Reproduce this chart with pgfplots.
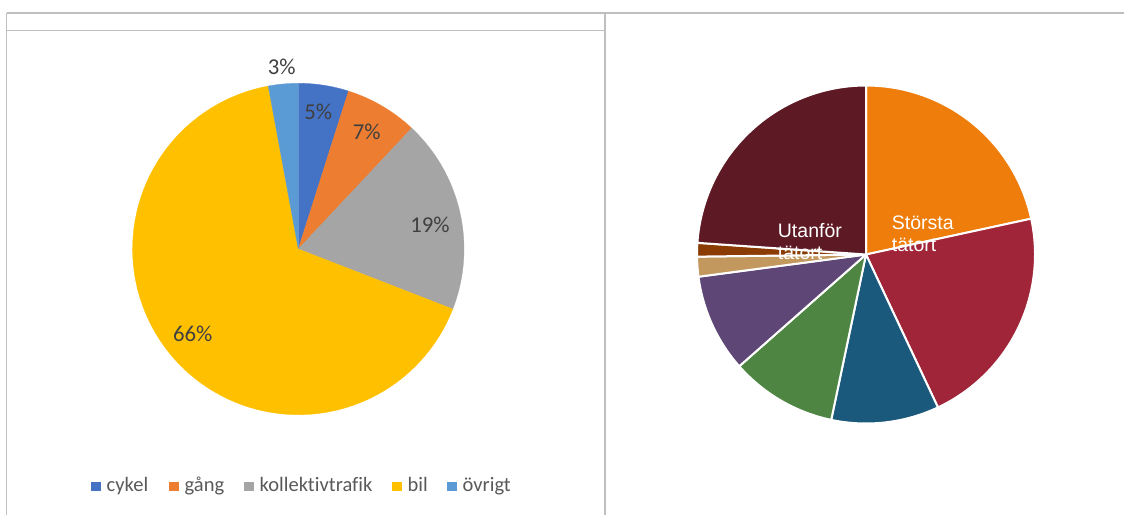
\documentclass[border=0pt]{standalone}
\usepackage{pgfplots}
\pgfplotsset{compat=1.18}
\usepackage{fontspec}
\setmainfont{Carlito}[Ligatures=NoCommon]
\newfontfamily\arial{Liberation Sans}
\definecolor{bordercol}{HTML}{BFBFBF}
\definecolor{cykel}{HTML}{4472C4}
\definecolor{gang}{HTML}{ED7D31}
\definecolor{koll}{HTML}{A5A5A5}
\definecolor{bil}{HTML}{FFC000}
\definecolor{ovr}{HTML}{5B9BD5}
\definecolor{rOrange}{HTML}{EE7D0B}
\definecolor{rRed}{HTML}{A12538}
\definecolor{rBlue}{HTML}{1B597C}
\definecolor{rGreen}{HTML}{4E8542}
\definecolor{rPurple}{HTML}{5E4777}
\definecolor{rTan}{HTML}{C3985E}
\definecolor{rBrown}{HTML}{8B3C05}
\definecolor{rMaroon}{HTML}{5E1A24}
\definecolor{lbl}{HTML}{404040}
\definecolor{leg}{HTML}{595959}

\newcommand\cum{0}
% #1 value (percent), #2 fill colour, #3 draw style
\newcommand\pieslice[3]{%
  \pgfmathsetmacro\angA{90-3.6*\cum}%
  \pgfmathsetmacro\angB{90-3.6*(\cum+#1)}%
  \edef\doslice{\noexpand\addplot[fill=#2, #3, line join=round, domain=\angB:\angA, samples=90] ({cos(x)},{sin(x)}) -- (axis cs:0,0) -- cycle;}%
  \doslice
  \pgfmathsetmacro\tmp{\cum+#1}\xdef\cum{\tmp}%
}

\begin{document}
\begin{tikzpicture}[x=1pt,y=1pt]
\useasboundingbox (0,0) rectangle (1124,515);
% table borders
\draw[bordercol, line width=1.6pt] (6.7,501.7) -- (1124,501.7);
\draw[bordercol, line width=1.4pt] (6.7,0) -- (6.7,501.7);
\draw[bordercol, line width=1.4pt] (605,0) -- (605,501.7);
\draw[bordercol, line width=1.4pt] (6.7,484.5) -- (605,484.5);

% left pie
\gdef\cum{0}
\begin{axis}[at={(298.3pt,266pt)}, anchor=center, scale only axis,
  width=331.4pt, height=331.4pt, xmin=-1, xmax=1, ymin=-1, ymax=1,
  hide axis, clip=false]
\pieslice{4.9}{cykel}{draw=cykel, line width=0.3pt}
\pieslice{7.1}{gang}{draw=gang, line width=0.3pt}
\pieslice{18.9}{koll}{draw=koll, line width=0.3pt}
\pieslice{66.2}{bil}{draw=bil, line width=0.3pt}
\pieslice{2.9}{ovr}{draw=ovr, line width=0.3pt}
\end{axis}

% right pie
\gdef\cum{0}
\begin{axis}[at={(866pt,260.5pt)}, anchor=center, scale only axis,
  width=338pt, height=338pt, xmin=-1, xmax=1, ymin=-1, ymax=1,
  hide axis, clip=false]
\pieslice{21.6}{rOrange}{draw=white, line width=2pt}
\pieslice{21.4}{rRed}{draw=white, line width=2pt}
\pieslice{10.3}{rBlue}{draw=white, line width=2pt}
\pieslice{10.2}{rGreen}{draw=white, line width=2pt}
\pieslice{9.4}{rPurple}{draw=white, line width=2pt}
\pieslice{1.9}{rTan}{draw=white, line width=2pt}
\pieslice{1.3}{rBrown}{draw=white, line width=2pt}
\pieslice{23.9}{rMaroon}{draw=white, line width=2pt}
\end{axis}

% left pie labels
\begin{scope}[every node/.style={text=lbl, inner sep=0pt, font=\fontsize{22.7}{27}\selectfont}]
\node at (281.7,448.3) {3\%};
\node at (318.3,403.3) {5\%};
\node at (366.7,383.3) {7\%};
\node at (430,290) {19\%};
\node at (192.7,181) {66\%};
\end{scope}

% right pie labels
\begin{scope}[every node/.style={text=white, inner sep=0pt, anchor=west, align=left, font=\arial\fontsize{19.5}{22}\selectfont}]
\node at (891.7,280.8) {Största\\tätort};
\node at (777.7,273.8) {Utanför\\tätort};
\end{scope}

% legend
\begin{scope}[every node/.style={text=leg, inner sep=0pt, anchor=base west, font=\fontsize{20.5}{24}\selectfont}]
\fill[cykel] (91,23.8) rectangle ++(9.6,9.6);  \node at (106.5,23.5) {cykel};
\fill[gang] (169,23.8) rectangle ++(9.6,9.6);  \node at (184.5,23.5) {gång};
\fill[koll] (244,23.8) rectangle ++(9.6,9.6);  \node at (259.5,23.5) {kollektivtrafik};
\fill[bil] (392,23.8) rectangle ++(9.6,9.6);   \node at (407.5,23.5) {bil};
\fill[ovr] (447,23.8) rectangle ++(9.6,9.6);   \node at (462.5,23.5) {övrigt};
\end{scope}
\end{tikzpicture}
\end{document}
